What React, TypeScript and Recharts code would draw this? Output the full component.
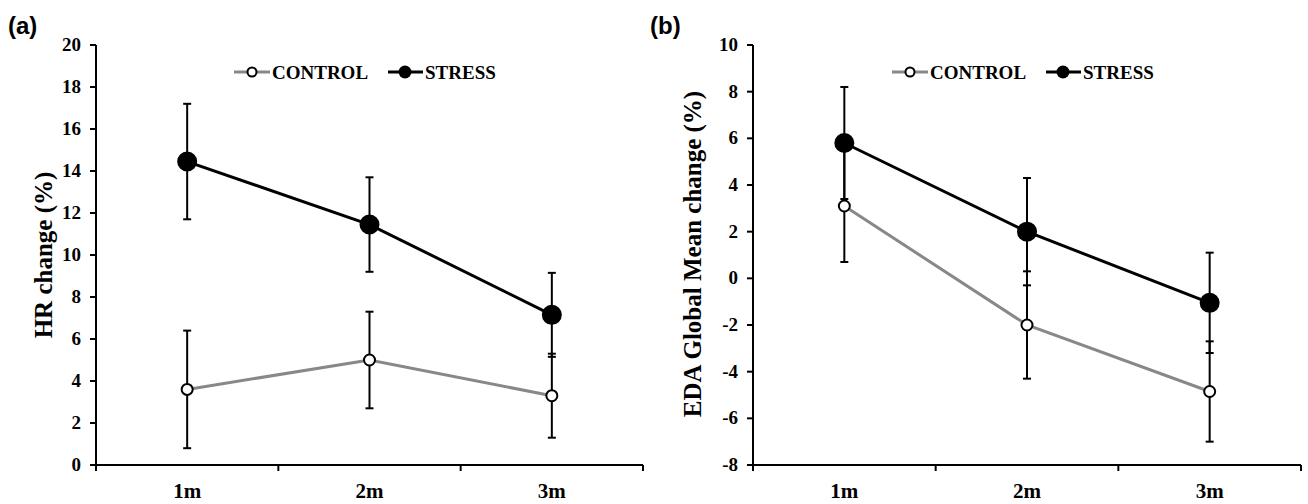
import React from 'react';
import { LineChart, Line, XAxis, YAxis, ErrorBar, Legend } from 'recharts';

const categories = ['1m', '2m', '3m'];

const hrControl = [3.6, 5.0, 3.3];
const hrControlErr = [2.8, 2.3, 2.0];
const hrStress = [14.45, 11.45, 7.15];
const hrStressErr = [2.75, 2.25, 2.0];

const edaControl = [3.1, -2.0, -4.85];
const edaControlErr = [2.4, 2.3, 2.15];
const edaStress = [5.8, 2.0, -1.05];
const edaStressErr = [2.4, 2.3, 2.15];

const hrTicks = [0, 2, 4, 6, 8, 10, 12, 14, 16, 18, 20];
const edaTicks = [-8, -6, -4, -2, 0, 2, 4, 6, 8, 10];
const xTicks = [0.5, 1, 1.5, 2, 2.5, 3, 3.5];

const SERIF = '"Liberation Serif", "Times New Roman", serif';
const SANS = '"Liberation Sans", Arial, sans-serif';
const GREY = '#888888';

const build = (control: number[], controlErr: number[], stress: number[], stressErr: number[]) =>
  categories.map((c, i) => ({
    x: i + 1,
    name: c,
    control: control[i],
    controlErr: controlErr[i],
    stress: stress[i],
    stressErr: stressErr[i],
  }));

const hrData = build(hrControl, hrControlErr, hrStress, hrStressErr);
const edaData = build(edaControl, edaControlErr, edaStress, edaStressErr);

const XTick = (props: any) => {
  const { x, y, payload } = props;
  const v = payload.value;
  if (Number.isInteger(v)) {
    return (
      <text x={x} y={y + 33} textAnchor="middle" fill="#000" fontSize={21} fontWeight="bold" fontFamily={SERIF}>
        {categories[v - 1]}
      </text>
    );
  }
  return <line x1={x} y1={y} x2={x} y2={y + 6} stroke="#000" strokeWidth={2} />;
};

const YTick = (props: any) => {
  const { x, y, payload } = props;
  return (
    <text x={x} y={y + 6} textAnchor="end" fill="#000" fontSize={19} fontWeight="bold" fontFamily={SERIF}>
      {payload.value}
    </text>
  );
};

const LegendContent = () => (
  <svg width={270} height={24} style={{ display: 'block', overflow: 'visible' }}>
    <line x1={0} y1={12} x2={36} y2={12} stroke={GREY} strokeWidth={3} />
    <circle cx={18} cy={12} r={4.5} fill="#fff" stroke="#000" strokeWidth={2} />
    <text x={38} y={18.5} fontSize={19} fontWeight="bold" fontFamily={SERIF} fill="#000">CONTROL</text>
    <line x1={154} y1={12} x2={189} y2={12} stroke="#000" strokeWidth={3} />
    <circle cx={171} cy={12} r={6.5} fill="#000" />
    <text x={191} y={18.5} fontSize={19} fontWeight="bold" fontFamily={SERIF} fill="#000">STRESS</text>
  </svg>
);

const Panel = ({ data, domain, ticks, width, marginLeft, legendLeft }: any) => (
  <LineChart width={width} height={504} data={data} margin={{ top: 45, right: 7, bottom: 9, left: marginLeft }}>
    <XAxis
      type="number"
      dataKey="x"
      domain={[0.5, 3.5]}
      ticks={xTicks}
      interval={0}
      tickSize={0}
      tickMargin={0}
      tickLine={false}
      tick={<XTick />}
      height={30}
      axisLine={{ stroke: '#000', strokeWidth: 2 }}
      allowDataOverflow
    />
    <YAxis
      type="number"
      domain={domain}
      ticks={ticks}
      interval={0}
      width={60}
      tickSize={6}
      tickMargin={9}
      tick={<YTick />}
      tickLine={{ stroke: '#000', strokeWidth: 2 }}
      axisLine={{ stroke: '#000', strokeWidth: 2 }}
      allowDataOverflow
    />
    <Legend
      layout="vertical"
      align="center"
      verticalAlign="middle"
      content={<LegendContent />}
      wrapperStyle={{ position: 'absolute', left: legendLeft, top: 60, width: 270, height: 24 }}
    />
    <Line
      type="linear"
      dataKey="control"
      stroke={GREY}
      strokeWidth={3}
      dot={{ r: 5.5, fill: '#fff', stroke: '#000', strokeWidth: 2 }}
      activeDot={false}
      isAnimationActive={false}
    >
      <ErrorBar dataKey="controlErr" width={4} stroke="#000" strokeWidth={2} direction="y" isAnimationActive={false} />
    </Line>
    <Line
      type="linear"
      dataKey="stress"
      stroke="#000"
      strokeWidth={3}
      dot={{ r: 9, fill: '#000', stroke: '#000', strokeWidth: 2 }}
      activeDot={false}
      isAnimationActive={false}
    >
      <ErrorBar dataKey="stressErr" width={4} stroke="#000" strokeWidth={2} direction="y" isAnimationActive={false} />
    </Line>
  </LineChart>
);

export default function App() {
  return (
    <div style={{ position: 'absolute', left: 0, top: 0, width: 1308, height: 504, background: '#fff', overflow: 'hidden' }}>
      <div style={{ position: 'absolute', left: 0, top: 0 }}>
        <Panel data={hrData} domain={[0, 20]} ticks={hrTicks} width={650} marginLeft={36} legendLeft={234} />
      </div>
      <div style={{ position: 'absolute', left: 650, top: 0 }}>
        <Panel data={edaData} domain={[-8, 10]} ticks={edaTicks} width={658} marginLeft={43} legendLeft={242} />
      </div>
      <svg width={1308} height={504} style={{ position: 'absolute', left: 0, top: 0, pointerEvents: 'none' }}>
        <text x={8} y={34} fontSize={24} fontWeight="bold" fontFamily={SANS} fill="#000">(a)</text>
        <text x={650} y={34} fontSize={24} fontWeight="bold" fontFamily={SANS} fill="#000">(b)</text>
        <text transform="translate(52,255) rotate(-90)" textAnchor="middle" fontSize={25} fontWeight="bold" fontFamily={SERIF} fill="#000">
          HR change (%)
        </text>
        <text transform="translate(701,254) rotate(-90)" textAnchor="middle" fontSize={25} fontWeight="bold" fontFamily={SERIF} fill="#000">
          EDA Global Mean change (%)
        </text>
      </svg>
    </div>
  );
}
